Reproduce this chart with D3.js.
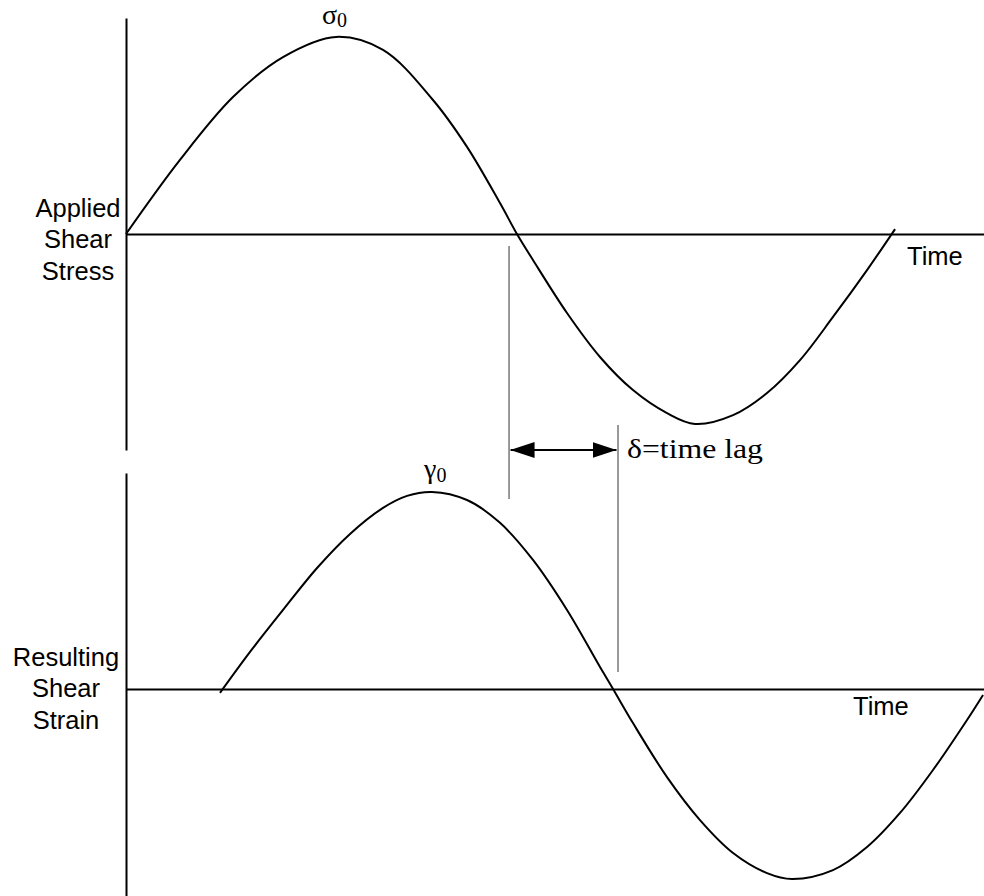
<!DOCTYPE html>
<html>
<head>
<meta charset="utf-8">
<script src="https://cdn.jsdelivr.net/npm/d3@7/dist/d3.min.js"></script>
<style>
  html, body { margin: 0; padding: 0; background: #fff; }
  svg { display: block; }
</style>
</head>
<body>
<div id="chart"></div>
<script>
// ---- data (time units, normalised amplitude) ----
const stressT = [0, 0.566, 1.122, 1.647, 2.203, 2.696, 3.220, 3.577, 3.923, 4.101, 4.269, 4.626, 4.972, 5.318, 5.675, 5.969, 6.368, 6.724, 7.070, 7.416, 7.773, 8.067];
const stressV = [0, 0.376, 0.695, 0.898, 1.0, 0.934, 0.680, 0.442, 0.157, 0, -0.132, -0.401, -0.624, -0.792, -0.909, -0.964, -0.919, -0.807, -0.640, -0.421, -0.183, 0.025];
const strainT = [0.986, 1.301, 1.647, 2.004, 2.350, 2.696, 2.948, 3.210, 3.577, 3.923, 4.269, 4.626, 4.972, 5.109, 5.318, 5.675, 6.021, 6.368, 6.724, 6.986, 7.416, 7.773, 8.119, 8.465, 8.822, 8.990];
const strainV = [-0.020, 0.188, 0.401, 0.614, 0.787, 0.919, 0.980, 1.0, 0.959, 0.843, 0.655, 0.401, 0.112, 0, -0.173, -0.447, -0.665, -0.832, -0.934, -0.964, -0.919, -0.802, -0.629, -0.411, -0.157, -0.030];
const lagStart = 4.018;   // stress zero crossing marker
const lagEnd = 5.161;     // strain zero crossing marker
const topLabel = ["Applied", "Shear", "Stress"];
const bottomLabel = ["Resulting", "Shear", "Strain"];
const timeLabel = "Time";
const lagLabel = "δ=time lag";

const W = 984, H = 896;
const svg = d3.select("#chart").append("svg").attr("width", W).attr("height", H);

const x = d3.scaleLinear().domain([0, 9]).range([126, 984]);
const yTop = d3.scaleLinear().domain([-1.096, 1.096]).range([450, 18]);
const yBot = d3.scaleLinear().domain([-1.096, 1.096]).range([905, 473]);

const sans = "'Liberation Sans', Arial, sans-serif";
const serif = "'Liberation Serif', 'Times New Roman', serif";

function panel(yS, T, V, labels, labelX, labelBase, timeX, timeY) {
  const g = svg.append("g");
  const ay = g.append("g").attr("transform", `translate(${x(0)},0)`)
    .call(d3.axisLeft(yS).ticks(0).tickSizeOuter(0));
  ay.select(".domain").attr("stroke", "#000").attr("stroke-width", 2);
  const ax = g.append("g").attr("transform", `translate(0,${yS(0)})`)
    .call(d3.axisBottom(x).ticks(0).tickSizeOuter(0));
  ax.select(".domain").attr("stroke", "#000").attr("stroke-width", 2);
  const pts = T.map((t, i) => [t, V[i]]);
  g.append("path")
    .attr("d", d3.line().x(d => x(d[0])).y(d => yS(d[1])).curve(d3.curveCatmullRom.alpha(0.5))(pts))
    .attr("fill", "none").attr("stroke", "#000").attr("stroke-width", 2);
  const tx = g.append("text").attr("font-family", sans).attr("font-size", 25.5)
    .attr("text-anchor", "middle").attr("fill", "#000");
  labels.forEach((l, i) => {
    tx.append("tspan").attr("x", labelX).attr("y", labelBase + i * 31.3).text(l);
  });
  g.append("text").attr("x", timeX).attr("y", timeY)
    .attr("font-family", sans).attr("font-size", 25.5).attr("fill", "#000").text(timeLabel);
}

panel(yTop, stressT, stressV, topLabel, 78, 217, 907, 265);
panel(yBot, strainT, strainV, bottomLabel, 66, 666, 853, 715);

// peak labels
const sig = svg.append("text").attr("x", 322).attr("y", 24)
  .attr("font-family", serif).attr("fill", "#000");
sig.append("tspan").attr("font-size", 28).text("σ");
sig.append("tspan").attr("font-size", 20).attr("dy", 3).text("0");

const gam = svg.append("text").attr("x", 424).attr("y", 478)
  .attr("font-family", serif).attr("fill", "#000");
gam.append("tspan").attr("font-size", 28).text("γ");
gam.append("tspan").attr("font-size", 20).attr("dy", 4).text("0");

// time lag markers
svg.append("line").attr("x1", x(lagStart)).attr("x2", x(lagStart))
  .attr("y1", 246).attr("y2", 499).attr("stroke", "#555").attr("stroke-width", 1.2);
svg.append("line").attr("x1", x(lagEnd)).attr("x2", x(lagEnd))
  .attr("y1", 425).attr("y2", 672).attr("stroke", "#555").attr("stroke-width", 1.2);

const defs = svg.append("defs");
defs.append("marker").attr("id", "ah").attr("viewBox", "0 0 24 16")
  .attr("refX", 24).attr("refY", 8).attr("markerWidth", 24).attr("markerHeight", 16)
  .attr("markerUnits", "userSpaceOnUse").attr("orient", "auto-start-reverse")
  .append("path").attr("d", "M0,0 L24,8 L0,16 Z").attr("fill", "#000");

svg.append("line").attr("x1", x(lagStart) + 1.5).attr("x2", x(lagEnd) - 1.5)
  .attr("y1", 450).attr("y2", 450).attr("stroke", "#000").attr("stroke-width", 2.2)
  .attr("marker-start", "url(#ah)").attr("marker-end", "url(#ah)");

svg.append("text").attr("x", 627).attr("y", 458)
  .attr("font-family", serif).attr("font-size", 28).attr("fill", "#000")
  .attr("textLength", 136).attr("lengthAdjust", "spacingAndGlyphs")
  .text(lagLabel);
</script>
</body>
</html>
